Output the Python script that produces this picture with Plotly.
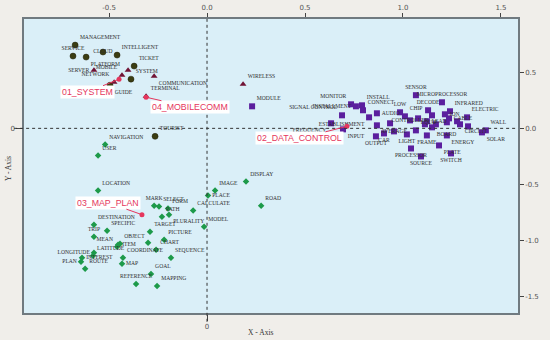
import plotly.graph_objects as go

# ---------------- data ----------------
system_labels = ["MANAGEMENT", "SERVICE", "CLOUD", "PLATFORM", "INTELLIGENT", "TICKET", "SYSTEM", "GUIDE", "TOURIST"]
system_x = [-0.673, -0.684, -0.531, -0.617, -0.459, -0.372, -0.388, -0.495, -0.265]
system_y = [0.741, 0.643, 0.679, 0.634, 0.652, 0.554, 0.438, 0.384, -0.071]

mobile_labels = ["SERVER", "MOBILE", "NETWORK", "", "COMMUNICATION", "TERMINAL", "WIRELESS"]
mobile_x = [-0.577, -0.434, -0.474, -0.403, -0.270, -0.311, 0.184]
mobile_y = [0.518, 0.473, 0.411, 0.518, 0.464, 0.286, 0.393]

data_labels = ["MODULE", "FREQUENCY", "SIGNAL CONTROL", "ESTABLISHMENT", "MONITOR", "INSTALLMENT",
               "INSTALL", "CONNECT", "AUDIO", "INPUT", "LOW", "CHIP", "CONTROLLER", "SENSOR",
               "MICROPROCESSOR", "DECODE", "INFRARED", "ION", "ELECTRIC", "LEAD", "CABLE", "EQUIP",
               "BOARD", "AVERAGE", "CAR", "OUTPUT", "LIGHT", "FRAME", "ENERGY", "CIRCUIT", "WALL",
               "SOLAR", "PLATE", "SWITCH", "PROCESSOR", "SOURCE",
               "", "", "", "", "", "", "", "", ""]
data_x = [0.230, 0.633, 0.689, 0.827, 0.735, 0.760, 0.791, 0.796, 0.867, 0.694, 0.985, 1.010, 1.036,
          1.066, 1.199, 1.128, 1.240, 1.214, 1.327, 1.122, 1.235, 1.066, 1.148, 0.954, 0.903, 0.862,
          1.020, 1.122, 1.224, 1.291, 1.423, 1.403, 1.184, 1.245, 1.041, 1.092,
          1.276, 1.332, 1.168, 1.077, 1.148, 0.867, 0.934, 1.224, 1.112]
data_y = [0.196, 0.045, 0.116, 0.098, 0.214, 0.196, 0.205, 0.161, 0.134, -0.009, 0.143, 0.107, 0.071,
          0.295, 0.232, 0.161, 0.152, 0.125, 0.098, 0.063, 0.089, -0.018, 0.009, -0.027, -0.045, -0.071,
          -0.054, -0.063, -0.063, 0.036, -0.018, -0.036, -0.152, -0.223, -0.179, -0.250,
          0.063, 0.018, 0.036, 0.089, 0.116, 0.027, 0.045, 0.054, 0.036]

map_labels = ["NAVIGATION", "USER", "LOCATION", "MARK", "SELECT", "FORM", "PATH", "PLURALITY", "CALCULATE",
              "PLACE", "IMAGE", "DISPLAY", "ROAD", "MODEL", "DESTINATION", "SPECIFIC", "TRIP", "TARGET",
              "MEAN", "OBJECT", "ITEM", "PICTURE", "CHART", "LONGITUDE", "LATITUDE", "INTEREST", "PLAN",
              "ROUTE", "COORDINATE", "SEQUENCE", "MAP", "GOAL", "REFERENCE", "MAPPING", ""]
map_x = [-0.520, -0.556, -0.556, -0.270, -0.245, -0.199, -0.230, -0.194, -0.071, 0.005, 0.041, 0.199,
         0.276, -0.015, -0.577, -0.510, -0.577, -0.291, -0.459, -0.444, -0.454, -0.219, -0.260, -0.577,
         -0.582, -0.638, -0.643, -0.622, -0.429, -0.184, -0.434, -0.286, -0.362, -0.255, -0.301]
map_y = [-0.143, -0.241, -0.554, -0.688, -0.696, -0.714, -0.786, -0.768, -0.732, -0.598, -0.554, -0.473,
         -0.688, -0.875, -0.857, -0.911, -0.964, -0.920, -1.054, -1.027, -1.036, -0.991, -1.080, -1.107,
         -1.134, -1.152, -1.188, -1.250, -1.152, -1.152, -1.205, -1.295, -1.384, -1.402, -1.018]

centroid_labels = ["01_SYSTEM", "04_MOBILECOMM", "02_DATA_CONTROL", "03_MAP_PLAN"]
centroid_x = [-0.449, -0.311, 0.714, -0.332]
centroid_y = [0.4375, 0.277, 0.018, -0.768]

top_ticks = [-0.5, 0.0, 0.5, 1.0, 1.5]
right_ticks = [0.5, 0.0, -0.5, -1.0, -1.5]

# ---------------- styles ----------------
system_pos = ["top right", "top center", "middle center", "bottom right", "top right", "top right",
              "top right", "bottom right", "top right"]
mobile_pos = ["middle left", "top left", "top left", "top right", "bottom right", "top right", "top right"]
data_pos = ["top right", "bottom left", "top left", "bottom left", "top left", "middle left", "top right",
            "top right", "middle right", "bottom right", "top center", "top right", "middle center",
            "top center", "top center", "top center", "top right", "middle right", "top right",
            "middle right", "middle right", "top right", "bottom right", "middle center", "bottom center",
            "bottom center", "bottom center", "bottom center", "bottom right", "bottom right", "top right",
            "bottom right", "bottom right", "bottom center", "bottom center", "bottom center"] + ["top right"] * 9
map_pos = ["top right", "top right", "top right", "top center", "top right", "top right", "top right",
           "bottom right", "top right", "middle right", "top right", "top right", "top right", "top right",
           "top right", "top right", "top center", "top right", "top left", "top right", "middle right",
           "top right", "top right", "middle left", "top right", "middle right", "middle left", "top right",
           "top right", "top right", "middle right", "top right", "top center", "top right", "top right"]
centroid_offsets = [(-32, 13), (44, 10), (-47, 12), (-34, -12)]

label_font = dict(family="Liberation Serif", size=5.6, color="#2e2e2e")
pink = "#e5365d"

fig = go.Figure()

fig.add_trace(go.Scatter(x=system_x, y=system_y, mode="markers+text", text=system_labels,
                         textposition=system_pos, textfont=label_font,
                         marker=dict(symbol="circle", size=6, color="#3b3d12",
                                     line=dict(width=0.5, color="#1e1e08")),
                         hoverinfo="text", showlegend=False))
fig.add_trace(go.Scatter(x=mobile_x, y=mobile_y, mode="markers+text", text=mobile_labels,
                         textposition=mobile_pos, textfont=label_font,
                         marker=dict(symbol="triangle-up", size=6, color="#701335"),
                         hoverinfo="text", showlegend=False))
fig.add_trace(go.Scatter(x=data_x, y=data_y, mode="markers+text", text=data_labels,
                         textposition=data_pos, textfont=label_font,
                         marker=dict(symbol="square", size=6, color="#5b1f9e"),
                         hoverinfo="text", showlegend=False))
fig.add_trace(go.Scatter(x=map_x, y=map_y, mode="markers+text", text=map_labels,
                         textposition=map_pos, textfont=label_font,
                         marker=dict(symbol="diamond", size=5, color="#1d9a4a"),
                         hoverinfo="text", showlegend=False))
fig.add_trace(go.Scatter(x=centroid_x, y=centroid_y, mode="markers",
                         marker=dict(symbol="circle", size=5, color=pink),
                         hoverinfo="skip", showlegend=False))
# invisible trace to activate the top/right axes
fig.add_trace(go.Scatter(x=[0], y=[0], xaxis="x2", yaxis="y2", mode="markers",
                         marker=dict(opacity=0), hoverinfo="skip", showlegend=False))

for lab, cx, cy, (ax, ay) in zip(centroid_labels, centroid_x, centroid_y, centroid_offsets):
    fig.add_annotation(x=cx, y=cy, text=lab, showarrow=True, arrowhead=0, arrowwidth=1,
                       arrowcolor=pink, ax=ax, ay=ay, bgcolor="white", borderpad=1,
                       font=dict(family="Liberation Sans", size=8.8, color=pink))

xr = [-0.934, 1.587]
yr = [-1.643, 0.973]
axis_line = dict(showline=True, linecolor="#707a80", linewidth=1.5, showgrid=False, zeroline=False,
                 automargin=False)
tick_font = dict(family="DejaVu Sans", size=7, color="#555555")

fig.update_layout(
    width=550, height=340,
    margin=dict(l=24, r=32, t=19, b=27, autoexpand=False),
    paper_bgcolor="#f0eeea", plot_bgcolor="#daeff8",
    font=dict(family="Liberation Serif"),
    xaxis=dict(range=xr, tickvals=[0], ticktext=["0"], ticks="outside", ticklen=6,
               tickcolor="#444444", tickfont=tick_font, **axis_line),
    yaxis=dict(range=yr, tickvals=[0], ticktext=["0"], ticks="outside", ticklen=6,
               tickcolor="#444444", tickfont=tick_font, **axis_line),
    xaxis2=dict(range=xr, overlaying="x", side="top", tickvals=top_ticks,
                ticktext=[f"{v:.1f}" for v in top_ticks], ticks="outside", ticklen=4,
                tickcolor="#444444", tickfont=tick_font, **axis_line),
    yaxis2=dict(range=yr, overlaying="y", side="right", tickvals=right_ticks,
                ticktext=[f"{v:.1f}" for v in right_ticks], ticks="outside", ticklen=4,
                tickcolor="#444444", tickfont=tick_font, **axis_line),
)

# dotted zero lines
fig.add_shape(type="line", xref="x", yref="paper", x0=0, x1=0, y0=-0.03, y1=1,
              line=dict(color="#333333", width=1, dash="dot"))
fig.add_shape(type="line", xref="paper", yref="y", x0=-0.02, x1=1.0, y0=0, y1=0,
              line=dict(color="#333333", width=1, dash="dot"))

# axis titles
fig.add_annotation(xref="paper", yref="paper", x=0.48, y=-0.065, yanchor="middle", showarrow=False,
                   text="X - Axis", font=dict(family="Liberation Serif", size=7.5, color="#333333"))
fig.add_annotation(xref="paper", yref="paper", x=-0.030, y=0.49, xanchor="center", showarrow=False,
                   text="Y - Axis", textangle=-90,
                   font=dict(family="Liberation Serif", size=7.5, color="#333333"))

fig.write_html("out.html", config={"displayModeBar": False},
               post_script="document.body.style.margin='0px';")
